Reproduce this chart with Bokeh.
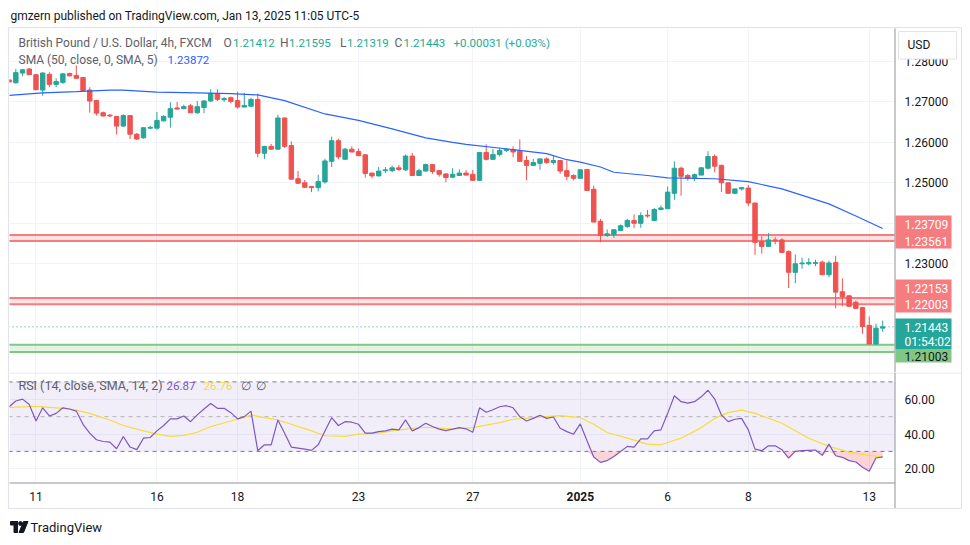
import numpy as np
from bokeh.plotting import figure
from bokeh.layouts import column, row, Spacer
from bokeh.models import (ColumnDataSource, FixedTicker, Label, Range1d, BoxAnnotation)
from bokeh.core.properties import value
from bokeh.embed import file_html
from bokeh.resources import INLINE

FONT = "Roboto"

# ---------------- data (GBP/USD 4h, FXCM) ----------------
opens = [1.2754, 1.2747, 1.2771, 1.2781, 1.2767, 1.2729, 1.2768, 1.2743, 1.2748, 1.2770,
         1.2765, 1.2760, 1.2729, 1.2703, 1.2673, 1.2667, 1.2664, 1.2640, 1.2666, 1.2620,
         1.2611, 1.2635, 1.2635, 1.2653, 1.2662, 1.2685, 1.2683, 1.2690, 1.2673, 1.2686,
         1.2702, 1.2720, 1.2705, 1.2710, 1.2703, 1.2687, 1.2689, 1.2706, 1.2573, 1.2590,
         1.2583, 1.2660, 1.2592, 1.2510, 1.2500, 1.2491, 1.2488, 1.2502, 1.2553, 1.2604,
         1.2558, 1.2583, 1.2577, 1.2569, 1.2524, 1.2517, 1.2530, 1.2530, 1.2537, 1.2532,
         1.2566, 1.2518, 1.2529, 1.2545, 1.2530, 1.2522, 1.2514, 1.2518, 1.2524, 1.2521,
         1.2506, 1.2575, 1.2558, 1.2570, 1.2580, 1.2582, 1.2578, 1.2555, 1.2543, 1.2548,
         1.2559, 1.2550, 1.2555, 1.2530, 1.2518, 1.2511, 1.2533, 1.2484, 1.2405, 1.2370,
         1.2372, 1.2382, 1.2392, 1.2407, 1.2400, 1.2420, 1.2407, 1.2434, 1.2436, 1.2474,
         1.2536, 1.2518, 1.2512, 1.2519, 1.2536, 1.2565, 1.2543, 1.2500, 1.2474, 1.2485,
         1.2487, 1.2450, 1.2355, 1.2343, 1.2359, 1.2359, 1.2330, 1.2279, 1.2300, 1.2300,
         1.2301, 1.2304, 1.2273, 1.2303, 1.2231, 1.2221, 1.2205, 1.2192, 1.2148, 1.2102,
         1.21412]
highs = [1.2756, 1.2781, 1.2781, 1.2783, 1.2767, 1.2773, 1.2773, 1.2758, 1.2771, 1.2772,
         1.2790, 1.2761, 1.2736, 1.2705, 1.2676, 1.2670, 1.2665, 1.2669, 1.2667, 1.2623,
         1.2637, 1.2640, 1.2675, 1.2667, 1.2699, 1.2700, 1.2693, 1.2695, 1.2702, 1.2704,
         1.2731, 1.2731, 1.2712, 1.2713, 1.2725, 1.2722, 1.2710, 1.2720, 1.2590, 1.2596,
         1.2668, 1.2661, 1.2602, 1.2529, 1.2507, 1.2492, 1.2520, 1.2559, 1.2614, 1.2609,
         1.2586, 1.2590, 1.2585, 1.2570, 1.2525, 1.2539, 1.2539, 1.2542, 1.2544, 1.2570,
         1.2574, 1.2535, 1.2547, 1.2546, 1.2531, 1.2523, 1.2536, 1.2533, 1.2531, 1.2532,
         1.2575, 1.2595, 1.2584, 1.2586, 1.2585, 1.2590, 1.2607, 1.2566, 1.2559, 1.2560,
         1.2563, 1.2569, 1.2556, 1.2555, 1.2521, 1.2534, 1.2534, 1.2493, 1.2411, 1.2385,
         1.2384, 1.2397, 1.2411, 1.2422, 1.2427, 1.2433, 1.2438, 1.2444, 1.2491, 1.2553,
         1.2540, 1.2522, 1.2523, 1.2539, 1.2578, 1.2570, 1.2545, 1.2501, 1.2485, 1.2488,
         1.2495, 1.2451, 1.2368, 1.2376, 1.2366, 1.2363, 1.2333, 1.2323, 1.2315, 1.2314,
         1.2310, 1.2308, 1.2308, 1.2320, 1.2264, 1.2223, 1.2209, 1.2192, 1.2170, 1.2152,
         1.21595]
lows = [1.2747, 1.2745, 1.2763, 1.2767, 1.2728, 1.2715, 1.2736, 1.2736, 1.2744, 1.2763,
        1.2757, 1.2725, 1.2673, 1.2666, 1.2664, 1.2662, 1.2619, 1.2638, 1.2608, 1.2606,
        1.2609, 1.2633, 1.2631, 1.2651, 1.2636, 1.2680, 1.2682, 1.2672, 1.2670, 1.2672,
        1.2700, 1.2702, 1.2700, 1.2696, 1.2683, 1.2687, 1.2688, 1.2563, 1.2559, 1.2582,
        1.2582, 1.2586, 1.2508, 1.2497, 1.2487, 1.2477, 1.2479, 1.2498, 1.2539, 1.2558,
        1.2558, 1.2576, 1.2566, 1.2513, 1.2511, 1.2516, 1.2524, 1.2526, 1.2529, 1.2529,
        1.2517, 1.2517, 1.2528, 1.2522, 1.2515, 1.2501, 1.2512, 1.2518, 1.2518, 1.2506,
        1.2506, 1.2555, 1.2557, 1.2565, 1.2576, 1.2563, 1.2552, 1.2506, 1.2542, 1.2532,
        1.2547, 1.2545, 1.2522, 1.2506, 1.2506, 1.2511, 1.2481, 1.2403, 1.2353, 1.2366,
        1.2364, 1.2382, 1.2389, 1.2388, 1.2389, 1.2414, 1.2407, 1.2432, 1.2436, 1.2458,
        1.2468, 1.2505, 1.2504, 1.2519, 1.2533, 1.2526, 1.2477, 1.2474, 1.2472, 1.2481,
        1.2442, 1.2322, 1.2325, 1.2343, 1.2348, 1.2328, 1.2240, 1.2252, 1.2288, 1.2296,
        1.2294, 1.2273, 1.2267, 1.2190, 1.2195, 1.2195, 1.2189, 1.2127, 1.2103, 1.21003,
        1.21319]
closes = [1.2749, 1.2772, 1.2779, 1.2767, 1.2730, 1.2771, 1.2743, 1.2750, 1.2769, 1.2764,
          1.2758, 1.2728, 1.2702, 1.2672, 1.2665, 1.2665, 1.2640, 1.2666, 1.2620, 1.2608,
          1.2636, 1.2637, 1.2654, 1.2664, 1.2683, 1.2682, 1.2688, 1.2673, 1.2688, 1.2702,
          1.2720, 1.2706, 1.2708, 1.2701, 1.2687, 1.2691, 1.2706, 1.2573, 1.2590, 1.2583,
          1.2660, 1.2590, 1.2509, 1.2499, 1.2489, 1.2488, 1.2503, 1.2554, 1.2604, 1.2564,
          1.2583, 1.2576, 1.2567, 1.2523, 1.2517, 1.2529, 1.2532, 1.2537, 1.2533, 1.2566,
          1.2518, 1.2530, 1.2545, 1.2528, 1.2521, 1.2513, 1.2521, 1.2524, 1.2519, 1.2506,
          1.2575, 1.2558, 1.2570, 1.2580, 1.2583, 1.2576, 1.2553, 1.2543, 1.2550, 1.2559,
          1.2550, 1.2555, 1.2529, 1.2516, 1.2511, 1.2532, 1.2481, 1.2403, 1.2370, 1.2374,
          1.2384, 1.2394, 1.2407, 1.2400, 1.2419, 1.2418, 1.2434, 1.2438, 1.2477, 1.2536,
          1.2516, 1.2511, 1.2520, 1.2537, 1.2565, 1.2541, 1.2500, 1.2474, 1.2485, 1.2488,
          1.2450, 1.2353, 1.2343, 1.2359, 1.2357, 1.2328, 1.2279, 1.2300, 1.2302, 1.2303,
          1.2303, 1.2273, 1.2302, 1.2230, 1.2219, 1.2195, 1.2190, 1.2145, 1.2102, 1.2141,
          1.21443]

# SMA(50) at selected bars
sma_idx = [0, 5, 10, 15, 17, 22, 28, 33, 37, 41, 47, 52, 57, 62, 66, 68, 75, 80, 83,
           85, 88, 90, 95, 98, 105, 110, 115, 122, 126, 130]
sma_val = [1.2716, 1.2722, 1.2725, 1.2729, 1.2729, 1.2724, 1.2722, 1.2720, 1.2717,
           1.2703, 1.2670, 1.2654, 1.2633, 1.2611, 1.2600, 1.2595, 1.2582, 1.2572,
           1.2557, 1.2551, 1.2539, 1.2526, 1.2518, 1.2512, 1.2510, 1.2503, 1.2485,
           1.2448, 1.2418, 1.23872]

# RSI(14) per bar
rsi = [55.7, 59.0, 60.1, 57.0, 47.5, 55.1, 50.4, 51.9, 55.1, 54.4,
       53.2, 45.6, 40.5, 36.7, 35.7, 35.3, 31.5, 38.6, 32.5, 31.0,
       37.6, 38.0, 41.8, 44.9, 48.7, 48.7, 50.4, 47.1, 51.0, 54.4,
       57.6, 54.8, 54.8, 52.3, 48.7, 50.0, 53.2, 30.4, 33.8, 33.8,
       48.1, 40.5, 32.5, 31.9, 31.3, 30.6, 33.8, 41.8, 49.4, 44.9,
       47.1, 46.8, 45.6, 40.5, 40.5, 41.4, 41.8, 42.8, 42.4, 48.1,
       41.8, 43.7, 46.2, 44.3, 42.8, 42.0, 42.8, 43.7, 43.0, 41.0,
       55.1, 52.5, 54.0, 55.7, 56.3, 55.1, 50.0, 47.5, 49.0, 50.8,
       49.0, 49.8, 43.3, 41.4, 39.9, 45.8, 36.1, 26.8, 23.7, 24.7,
       27.1, 30.0, 32.9, 32.5, 37.2, 37.2, 41.8, 42.4, 51.9, 62.0,
       58.6, 57.8, 58.6, 61.4, 65.2, 60.1, 51.0, 47.1, 48.5, 49.0,
       42.4, 31.3, 30.4, 33.2, 33.2, 31.0, 26.2, 30.0, 30.4, 30.6,
       30.8, 27.7, 34.2, 27.5, 26.6, 24.7, 23.9, 20.9, 18.6, 26.2,
       26.87]
# RSI-based SMA(14) at selected bars
rsi_ma_idx = [0, 4, 8, 10, 12, 15, 17, 20, 22, 24, 26, 28, 30, 33, 35, 36, 38, 40, 42,
              45, 47, 50, 52, 55, 57, 60, 62, 66, 69, 73, 75, 78, 82, 85, 87, 89, 92,
              95, 97, 100, 103, 105, 107, 109, 111, 115, 119, 122, 125, 128, 130]
rsi_ma_val = [55.3, 55.9, 54.8, 53.8, 51.9, 48.1, 44.9, 41.8, 39.9, 38.6, 39.2, 41.0,
              44.3, 47.5, 49.6, 51.0, 49.4, 48.1, 45.6, 41.8, 39.0, 38.6, 39.9, 40.5,
              41.8, 43.3, 43.9, 43.0, 43.7, 46.6, 48.5, 49.4, 50.6, 49.4, 45.6, 40.9,
              37.6, 34.2, 33.8, 37.6, 43.7, 49.0, 52.3, 53.8, 51.9, 46.2, 37.6, 32.9,
              29.6, 27.7, 26.76]

date_ticks = [4, 22, 34, 52, 69, 85, 98, 110, 128]
date_labels = ["11", "16", "18", "23", "27", "2025", "6", "8", "13"]
price_ticks = [1.23, 1.25, 1.26, 1.27, 1.28]
price_grid = [1.21, 1.22, 1.23, 1.24, 1.25, 1.26, 1.27, 1.28]
rsi_ticks = [20, 40, 60]
rsi_levels = [70, 50, 30]

zone_tops = [1.23709, 1.22153, 1.21003]
zone_bottoms = [1.23561, 1.22003, 1.20820]
zone_colors = ["#f77c80", "#f77c80", "#81c784"]
last_price = 1.21443
countdown = "01:54:02"

# ---------------- layout helpers (reference pixels -> data units) ----------------
def bx(px):
    return (px - 8.6) / 6.72

def py(px):
    return 1.23 + (263.3 - px) / 4050.0

def ry(px):
    return 70 - (px - 381.4) / 1.7375

UP, DOWN = "#26a69a", "#ef5350"
GRID = "#f0f3fa"
AXLINE = "#8f929b"
TXT = "#131722"
LEG = "#5d606b"
SEP = "#e0e3eb"
AX_X = bx(894.5)

idx = np.arange(len(opens))
o = np.array(opens); c = np.array(closes)
colors = [UP if cc >= oo else DOWN for oo, cc in zip(opens, closes)]
src = ColumnDataSource(dict(x=idx, h=highs, l=lows, top=np.maximum(o, c),
                            bottom=np.minimum(o, c), color=colors))

xr = Range1d(bx(9), bx(961))


def base_fig(w, h, x_range, y_range):
    f = figure(width=w, height=h, x_range=x_range, y_range=y_range,
               x_axis_location=None, y_axis_location=None, toolbar_location=None,
               output_backend="svg", min_border=0, outline_line_color=None,
               background_fill_color="white", border_fill_color="white")
    return f


def leg(fig, xref, yval, text, color, size):
    fig.add_layout(Label(x=bx(xref), y=yval, text=text, text_color=color,
                         text_font=FONT, text_font_size=size, text_baseline="middle",
                         text_align="left"))

# ---------------- header ----------------
hdr = base_fig(954, 19, Range1d(0, 954), Range1d(0, 19))
hdr.grid.visible = False
hdr.text(x=[2], y=[12], text=["gmzern published on TradingView.com, Jan 13, 2025 11:05 UTC-5"],
         text_font=value(FONT), text_font_size="12px", text_color=TXT, text_baseline="middle")

# ---------------- price pane ----------------
p = base_fig(952, 344, xr, Range1d(py(372), py(28)))
p.ygrid.ticker = FixedTicker(ticks=price_grid)
p.xgrid.ticker = FixedTicker(ticks=date_ticks)
p.grid.grid_line_color = GRID

# blank price-scale strip (covers grid lines)
p.quad(left=[AX_X], right=[bx(965)], bottom=[py(380)], top=[py(20)],
       fill_color="white", line_color=None)

for t, b, col in zip(zone_tops, zone_bottoms, zone_colors):
    p.add_layout(BoxAnnotation(top=t, bottom=b, right=bx(894), fill_color=col,
                               fill_alpha=0.22, line_color=None, level="underlay"))
p.segment(x0=bx(8), x1=bx(894), y0=zone_tops, y1=zone_tops, line_color=zone_colors, line_width=2)
p.segment(x0=bx(8), x1=bx(894), y0=zone_bottoms, y1=zone_bottoms, line_color=zone_colors, line_width=2)
p.segment(x0=bx(8), x1=bx(894), y0=last_price, y1=last_price, line_color=UP,
          line_width=1, line_dash="1 3")

p.segment(x0="x", y0="l", x1="x", y1="h", color="color", line_width=1, source=src)
p.vbar(x="x", width=0.66, top="top", bottom="bottom", fill_color="color",
       line_color="color", line_width=1, source=src)
p.line(sma_idx, sma_val, line_color="#2962ff", line_width=1.2)

# price scale: axis line and tick labels
p.segment(x0=AX_X, x1=AX_X, y0=py(373), y1=py(27), line_color=AXLINE, line_width=1)
p.text(x=bx(904), y=price_ticks, text=["%.5f" % t for t in price_ticks],
       text_font=value(FONT), text_font_size="12px", text_color=TXT, text_baseline="middle")

# USD button
p.quad(left=[bx(898)], right=[bx(956)], top=[py(31)], bottom=[py(58.5)],
       fill_color="white", line_color=SEP, line_width=1)
p.text(x=[bx(907)], y=[py(44.5)], text=["USD"], text_font=value(FONT), text_font_size="12px",
       text_color=TXT, text_baseline="middle")

# price-scale boxes for the zones, last price and support
box_top = [py(215), py(279), py(318), py(348.5)]
box_bot = [py(248), py(312), py(348.5), py(362)]
box_col = ["#f77c80", "#f77c80", UP, "#81c784"]
p.quad(left=bx(895), right=bx(951), top=box_top, bottom=box_bot,
       fill_color=box_col, line_color=None)
box_text = ["%.5f" % zone_tops[0], "%.5f" % zone_bottoms[0],
            "%.5f" % zone_tops[1], "%.5f" % zone_bottoms[1],
            "%.5f" % last_price, countdown]
box_ty = [py(224), py(240.5), py(287.7), py(304.2), py(326.5), py(341)]
p.text(x=bx(904), y=box_ty, text=box_text, text_font=value(FONT), text_font_size="12px",
       text_color="white", text_baseline="middle")
p.text(x=[bx(904)], y=[py(355.5)], text=["%.5f" % zone_tops[2]], text_font=value(FONT),
       text_font_size="12px", text_color=TXT, text_baseline="middle")

# legend texts
G = "#22ab94"
y1 = py(42)
for xref, t, col, sz in [(18, "British Pound / U.S. Dollar, 4h, FXCM", LEG, "12px"),
                         (223, "O", LEG, "12px"), (232.5, "1.21412", G, "11.5px"),
                         (279.5, "H", LEG, "12px"), (288.5, "1.21595", G, "11.5px"),
                         (339.5, "L", LEG, "12px"), (346.5, "1.21319", G, "11.5px"),
                         (394, "C", LEG, "12px"), (403, "1.21443", G, "11.5px"),
                         (453, "+0.00031 (+0.03%)", G, "11.5px")]:
    leg(p, xref, y1, t, col, sz)
y2 = py(59)
leg(p, 18, y2, "SMA (50, close, 0, SMA, 5)", LEG, "12px")
leg(p, 167, y2, "1.23872", "#2962ff", "11.5px")

# ---------------- RSI pane (+ time scale strip) ----------------
r = base_fig(952, 136, xr, Range1d(ry(508), ry(372)))
r.ygrid.ticker = FixedTicker(ticks=rsi_ticks)
r.xgrid.ticker = FixedTicker(ticks=date_ticks)
r.grid.grid_line_color = GRID

r.quad(left=[AX_X, bx(0)], right=[bx(965), bx(965)], bottom=[ry(515), ry(515)],
       top=[ry(365), ry(482.5)], fill_color="white", line_color=None)

r.add_layout(BoxAnnotation(bottom=rsi_levels[2], top=rsi_levels[0], right=bx(894),
                           fill_color="#7e57c2", fill_alpha=0.1, line_color=None,
                           level="underlay"))
r.segment(x0=bx(8), x1=bx(894), y0=rsi_levels, y1=rsi_levels, line_color="#787b86",
          line_alpha=[1.0, 0.5, 1.0], line_dash="4 4", line_width=1)

rsi_arr = np.array(rsi)
r.varea(x=idx, y1=np.minimum(rsi_arr, rsi_levels[2]), y2=rsi_levels[2],
        fill_color="#f23645", fill_alpha=0.22)
r.line(rsi_ma_idx, rsi_ma_val, line_color="#f5dd3a", line_width=1.2)
r.line(idx, rsi, line_color="#7e57c2", line_width=1.2)

# pane separator, axis lines
r.segment(x0=bx(8), x1=bx(962), y0=ry(372.5), y1=ry(372.5), line_color=SEP, line_width=1)
r.segment(x0=AX_X, x1=AX_X, y0=ry(510), y1=ry(372), line_color=AXLINE, line_width=1)
r.segment(x0=bx(8), x1=AX_X, y0=ry(482.5), y1=ry(482.5), line_color=AXLINE, line_width=1)

r.text(x=bx(904), y=rsi_ticks, text=["%.2f" % t for t in rsi_ticks],
       text_font=value(FONT), text_font_size="12px", text_color=TXT, text_baseline="middle")

reg = [(t, lab) for t, lab in zip(date_ticks, date_labels) if lab != "2025"]
yr = [(t, lab) for t, lab in zip(date_ticks, date_labels) if lab == "2025"]
r.text(x=[t for t, _ in reg], y=ry(496), text=[lab for _, lab in reg], text_font=value(FONT),
       text_font_size="12px", text_color=TXT, text_baseline="middle", text_align="center")
r.text(x=[t for t, _ in yr], y=ry(496), text=[lab for _, lab in yr], text_font=value(FONT),
       text_font_size="12px", text_font_style="bold", text_color=TXT,
       text_baseline="middle", text_align="center")

yl = ry(385)
leg(r, 18, yl, "RSI (14, close, SMA, 14, 2)", LEG, "12.5px")
leg(r, 166, yl, "26.87", "#7e57c2", "11.5px")
leg(r, 203, yl, "26.76", "#f5dd3a", "11.5px")
leg(r, 240, yl, "\u2205", LEG, "12px")
leg(r, 255, yl, "\u2205", LEG, "12px")

panes = column(p, r, styles={"border": "1px solid #e0e3eb"})

# ---------------- footer (TradingView mark) ----------------
ft = base_fig(954, 29, Range1d(0, 954), Range1d(0, 29))
ft.grid.visible = False
ft.quad(left=[2, 5.5], right=[9, 9], top=[17, 17], bottom=[13.5, 6], color=TXT)
ft.circle(x=[12], y=[15], radius=1.9, color=TXT)
ft.patch(x=[15, 19.5, 15, 10.5], y=[17, 17, 6, 6], color=TXT)
ft.text(x=[22], y=[11], text=["TradingView"], text_font=value(FONT), text_font_size="13px",
        text_color=TXT, text_baseline="middle")

inner = column(hdr, panes, ft)
layout = column(Spacer(height=8), row(Spacer(width=8), inner))
open("out.html", "w").write(file_html(layout, INLINE))
